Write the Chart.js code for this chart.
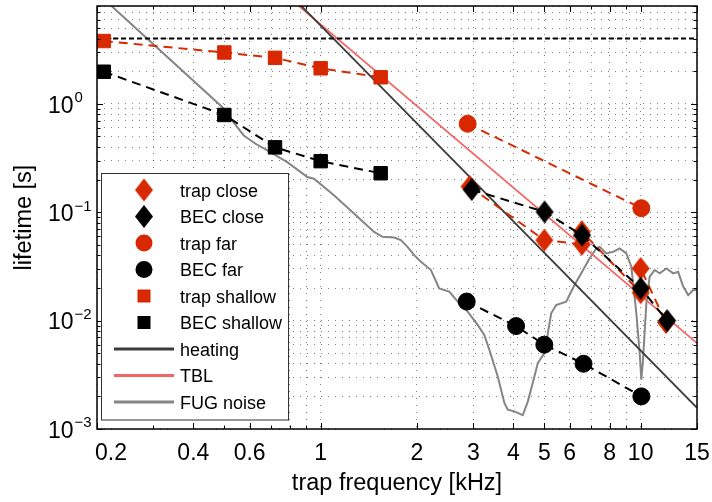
<!DOCTYPE html>
<html>
<head>
<meta charset="utf-8">
<title>Lifetime vs trap frequency</title>
<script src="https://cdn.jsdelivr.net/npm/chart.js@4/dist/chart.umd.min.js"></script>
<style>
  html, body { margin: 0; padding: 0; background: #fff; }
  #wrap { width: 712px; height: 502px; }
</style>
</head>
<body>
<div id="wrap"><canvas id="c" width="712" height="502"></canvas></div>
<script>
// ---- axis ticks ----
const xTicks = [0.2, 0.3, 0.4, 0.5, 0.6, 0.7, 0.8, 0.9, 1, 2, 3, 4, 5, 6, 7, 8, 9, 10, 15];
const xLabelValues = [0.2, 0.4, 0.6, 1, 2, 3, 4, 5, 6, 8, 10, 15];
const xLabelTexts = ['0.2', '0.4', '0.6', '1', '2', '3', '4', '5', '6', '8', '10', '15'];
const yTicks = [0.001, 0.002, 0.003, 0.004, 0.005, 0.006, 0.007, 0.008, 0.009,
                0.01, 0.02, 0.03, 0.04, 0.05, 0.06, 0.07, 0.08, 0.09,
                0.1, 0.2, 0.3, 0.4, 0.5, 0.6, 0.7, 0.8, 0.9,
                1, 2, 3, 4, 5, 6, 7, 8];
const yLabelValues = [0.001, 0.01, 0.1, 1];
const yLabelExponents = ['\u22123', '\u22122', '\u22121', '0'];

// ---- measured lifetimes (frequency in kHz, lifetime in s) ----
const trapCloseFreq = [2.92, 5.0, 6.55, 6.55, 10.0, 10.0, 12.0];
const trapCloseLife = [0.173, 0.0553, 0.0506, 0.0662, 0.0181, 0.0303, 0.0096];
const becCloseFreq = [2.965, 5.01, 6.56, 10.0, 12.1];
const becCloseLife = [0.162, 0.1007, 0.0614, 0.0199, 0.0100];
const trapFarFreq = [2.88, 10.05];
const trapFarLife = [0.655, 0.109];
const becFarFreq = [2.86, 4.08, 5.0, 6.63, 10.05];
const becFarLife = [0.0150, 0.0089, 0.0060, 0.0040, 0.0020];
const trapShallowFreq = [0.21, 0.5, 0.72, 1.0, 1.54];
const trapShallowLife = [3.8, 2.98, 2.66, 2.13, 1.76];
const becShallowFreq = [0.21, 0.5, 0.72, 1.0, 1.54];
const becShallowLife = [1.98, 0.79, 0.397, 0.296, 0.229];

// ---- model lines ----
const heatingFreq = [0.8, 15];
const heatingLife = [10.3, 0.00157];
const tblFreq = [0.8, 15];
const tblLife = [9.44, 0.0062];
const limitFreq = [0.2, 15];
const limitLife = [4.0, 4.0];

// ---- FUG supply noise limit ----
const fugFreq = [0.2, 0.493, 0.529, 0.575, 0.626, 0.681, 0.786, 0.909, 0.953, 1.10,
  1.271, 1.469, 1.561, 1.697, 1.781, 1.868, 1.960, 2.057, 2.211, 2.347,
  2.522, 2.711, 2.880, 3.096, 3.246, 3.366, 3.576, 3.751, 3.844, 4.030,
  4.282, 4.441, 4.656, 4.771, 5.004, 5.128, 5.253, 5.445, 5.852, 5.993,
  6.215, 6.522, 6.923, 7.265, 7.440, 7.807, 8.196, 8.596, 9.02, 9.352,
  9.694, 9.93, 10.05, 10.17, 10.42, 10.67, 11.06, 11.47, 12.04, 12.64,
  13.1, 13.58, 14.08, 14.59, 15.0];
const fugLife = [10.6, 0.930, 0.702, 0.511, 0.4285, 0.372, 0.290, 0.2112, 0.204, 0.1433,
  0.0973, 0.0659, 0.0593, 0.0585, 0.0553, 0.048, 0.0402, 0.0349, 0.0293, 0.01986,
  0.0185, 0.01445, 0.0121, 0.00913, 0.00739, 0.00538, 0.00305, 0.00174, 0.00151, 0.001455,
  0.00134, 0.0018, 0.00305, 0.00406, 0.00501, 0.00766, 0.0117, 0.01394, 0.01496, 0.01723,
  0.0213, 0.0273, 0.0375, 0.04634, 0.048, 0.0417, 0.0431, 0.0463, 0.0417, 0.0314,
  0.0117, 0.00501, 0.00285, 0.00435, 0.01445, 0.0254, 0.0293, 0.0273, 0.0303, 0.0273,
  0.0282, 0.0206, 0.0172, 0.01916, 0.0192];

const RED = '#d82800';
const BLACK = '#000000';
const FONT = '"Liberation Sans", Arial, Helvetica, sans-serif';

const pts = (xs, ys) => xs.map((x, i) => ({ x: x, y: ys[i] }));

// tall diamond marker
function makeDiamond(color) {
  const c = document.createElement('canvas');
  c.width = 20; c.height = 25;
  const g = c.getContext('2d');
  g.fillStyle = color;
  g.beginPath();
  g.moveTo(10, 1); g.lineTo(19, 12.5); g.lineTo(10, 24); g.lineTo(1, 12.5);
  g.closePath(); g.fill();
  return c;
}
const diamondRed = makeDiamond(RED);
const diamondBlack = makeDiamond(BLACK);

function markerSet(label, xs, ys, color, style, radius, order) {
  return {
    label: label, data: pts(xs, ys), showLine: true,
    borderColor: color, borderWidth: 2, borderDash: [9, 6],
    pointStyle: style, pointRadius: radius, pointHoverRadius: radius,
    pointBackgroundColor: color, pointBorderColor: color, pointBorderWidth: 1,
    order: order
  };
}
function lineSet(label, xs, ys, color, width, order, dash) {
  return {
    label: label, data: pts(xs, ys), showLine: true,
    borderColor: color, borderWidth: width, borderDash: dash || [],
    pointRadius: 0, pointHoverRadius: 0, order: order
  };
}

const datasets = [
  markerSet('trap close', trapCloseFreq, trapCloseLife, RED, diamondRed, 9, 2),
  markerSet('BEC close', becCloseFreq, becCloseLife, BLACK, diamondBlack, 9, 1),
  markerSet('trap far', trapFarFreq, trapFarLife, RED, 'circle', 8.5, 3),
  markerSet('BEC far', becFarFreq, becFarLife, BLACK, 'circle', 8.5, 4),
  markerSet('trap shallow', trapShallowFreq, trapShallowLife, RED, 'rect', 9.5, 5),
  markerSet('BEC shallow', becShallowFreq, becShallowLife, BLACK, 'rect', 9.5, 6),
  lineSet('heating', heatingFreq, heatingLife, '#3c3c3c', 1.8, 8),
  lineSet('TBL', tblFreq, tblLife, '#f46666', 1.8, 9),
  lineSet('FUG noise', fugFreq, fugLife, '#858585', 2, 10),
  lineSet('', limitFreq, limitLife, '#000000', 2, 7, [5, 3])
];

// box, inward ticks, tick labels, titles and legend
const decorations = {
  id: 'decorations',
  afterDatasetsDraw(chart) {
    const ctx = chart.ctx;
    const a = chart.chartArea;
    const xs = chart.scales.x, ys = chart.scales.y;
    ctx.save();

    // inward tick marks on all four sides
    ctx.strokeStyle = '#000'; ctx.lineWidth = 1;
    const xMajor = new Set(xLabelValues), yMajor = new Set(yLabelValues);
    ctx.beginPath();
    xTicks.forEach(v => {
      const px = Math.round(xs.getPixelForValue(v)) + 0.5;
      const len = xMajor.has(v) ? 6 : 3.5;
      ctx.moveTo(px, a.bottom); ctx.lineTo(px, a.bottom - len);
      ctx.moveTo(px, a.top); ctx.lineTo(px, a.top + len);
    });
    yTicks.forEach(v => {
      const py = Math.round(ys.getPixelForValue(v)) + 0.5;
      const len = yMajor.has(v) ? 6 : 3.5;
      ctx.moveTo(a.left, py); ctx.lineTo(a.left + len, py);
      ctx.moveTo(a.right, py); ctx.lineTo(a.right - len, py);
    });
    ctx.stroke();

    // axes box
    ctx.lineWidth = 1.5;
    ctx.strokeRect(a.left, a.top, a.right - a.left, a.bottom - a.top);

    // x tick labels
    ctx.fillStyle = '#000';
    ctx.font = '23px ' + FONT;
    ctx.textBaseline = 'alphabetic';
    xLabelValues.forEach((v, i) => {
      const px = xs.getPixelForValue(v);
      if (i === 0) { ctx.textAlign = 'left'; ctx.fillText(xLabelTexts[i], px - 2, 460); }
      else { ctx.textAlign = 'center'; ctx.fillText(xLabelTexts[i], px, 460); }
    });

    // y tick labels as powers of ten
    ctx.textAlign = 'left';
    yLabelValues.forEach((v, i) => {
      const py = ys.getPixelForValue(v);
      ctx.font = '23px ' + FONT;
      ctx.fillText('10', 48, py + 8.8);
      const w = ctx.measureText('10').width;
      ctx.font = '15px ' + FONT;
      ctx.fillText(yLabelExponents[i], 48 + w + 1, py - 1.6);
    });

    // axis titles
    ctx.font = '23.5px ' + FONT;
    ctx.textAlign = 'center';
    ctx.fillText('trap frequency [kHz]', (a.left + a.right) / 2, 490);
    ctx.save();
    ctx.translate(31, (a.top + a.bottom) / 2);
    ctx.rotate(-Math.PI / 2);
    ctx.fillText('lifetime [s]', 0, 0);
    ctx.restore();

    // legend
    const lx = 101.5, ly = 173.5, lw = 187, lh = 246.5;
    ctx.fillStyle = '#fff';
    ctx.fillRect(lx, ly, lw, lh);
    ctx.strokeStyle = '#333'; ctx.lineWidth = 1;
    ctx.strokeRect(lx, ly, lw, lh);
    ctx.font = '18px ' + FONT;
    ctx.textAlign = 'left';
    const items = chart.data.datasets.filter(d => d.label);
    items.forEach((d, i) => {
      const cy = 190 + i * 26.5;
      const cx = 144;
      if (d.pointRadius > 0) {
        const st = d.pointStyle;
        ctx.fillStyle = d.pointBackgroundColor;
        if (typeof st === 'object') {
          ctx.drawImage(st, cx - st.width / 2, cy - st.height / 2);
        } else if (st === 'circle') {
          ctx.beginPath(); ctx.arc(cx, cy, d.pointRadius, 0, Math.PI * 2); ctx.fill();
        } else {
          const s = 13;
          ctx.fillRect(cx - s / 2, cy - s / 2, s, s);
        }
      } else {
        ctx.strokeStyle = d.borderColor; ctx.lineWidth = 3;
        ctx.beginPath(); ctx.moveTo(114, cy); ctx.lineTo(174, cy); ctx.stroke();
      }
      ctx.fillStyle = '#000';
      ctx.fillText(d.label, 180, cy + 6.5);
    });
    ctx.restore();
  }
};

const gridOpts = { color: 'rgba(0,0,0,0.5)', lineWidth: 1, drawTicks: false };

new Chart(document.getElementById('c'), {
  type: 'scatter',
  data: { datasets: datasets },
  options: {
    responsive: false,
    animation: false,
    devicePixelRatio: 1,
    layout: { autoPadding: false, padding: { left: 97, top: 6, right: 15, bottom: 73 } },
    plugins: { legend: { display: false }, tooltip: { enabled: false } },
    elements: { line: { tension: 0 } },
    scales: {
      x: {
        type: 'logarithmic', min: 0.2, max: 15,
        afterBuildTicks: s => { s.ticks = xTicks.map(v => ({ value: v })); },
        ticks: { display: false, autoSkip: false },
        grid: gridOpts,
        border: { display: false, dash: [1, 6] }
      },
      y: {
        type: 'logarithmic', min: 0.001, max: 8,
        afterBuildTicks: s => { s.ticks = yTicks.map(v => ({ value: v })); },
        ticks: { display: false, autoSkip: false },
        grid: gridOpts,
        border: { display: false, dash: [1, 6] }
      }
    }
  },
  plugins: [decorations]
});
</script>
</body>
</html>
